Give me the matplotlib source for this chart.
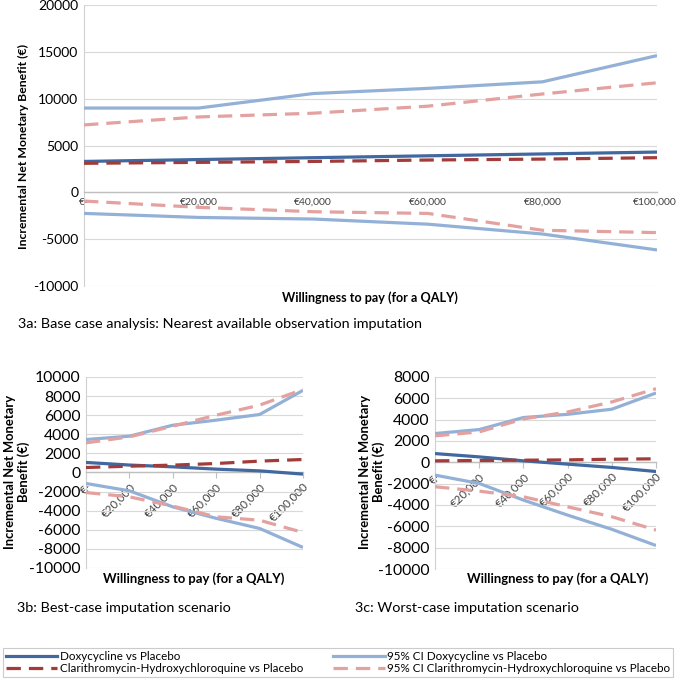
import matplotlib
matplotlib.use("Agg")
import matplotlib.pyplot as plt
from matplotlib.lines import Line2D
from matplotlib.ticker import FuncFormatter
from matplotlib.transforms import ScaledTranslation

plt.rcParams['font.family'] = ['Lato', 'DejaVu Sans']

wtp = [0, 20000, 40000, 60000, 80000, 100000]
xtick_labels = ["€-", "€20,000", "€40,000", "€60,000", "€80,000", "€100,000"]

# 3a base case
a_doxy = [3300, 3500, 3700, 3900, 4100, 4300]
a_clar = [3100, 3200, 3300, 3450, 3550, 3700]
a_doxy_hi = [9000, 9000, 10550, 11100, 11800, 14600]
a_doxy_lo = [-2250, -2680, -2850, -3400, -4450, -6150]
a_clar_hi = [7200, 8050, 8450, 9200, 10500, 11700]
a_clar_lo = [-930, -1600, -2070, -2250, -4050, -4300]

# 3b best case
b_doxy = [1050, 780, 590, 350, 170, -170]
b_clar = [520, 660, 770, 940, 1190, 1360]
b_doxy_hi = [3450, 3800, 4950, 5480, 6070, 8600]
b_doxy_lo = [-1150, -1920, -3600, -4800, -5860, -7850]
b_clar_hi = [3100, 3730, 4850, 6000, 7050, 8700]
b_clar_lo = [-2100, -2550, -3520, -4640, -5000, -6280]

# 3c worst case
c_doxy = [820, 510, 140, -170, -480, -860]
c_clar = [140, 170, 200, 230, 290, 330]
c_doxy_hi = [2700, 3070, 4200, 4500, 4980, 6500]
c_doxy_lo = [-1200, -1980, -3540, -4950, -6280, -7800]
c_clar_hi = [2480, 2850, 4070, 4720, 5660, 6900]
c_clar_lo = [-2290, -2700, -3230, -4170, -5100, -6350]

series_names = ["Doxycycline vs Placebo", "95% CI Doxycycline vs Placebo",
                "Clarithromycin-Hydroxychloroquine vs Placebo",
                "95% CI Clarithromycin-Hydroxychloroquine vs Placebo"]

C_DOXY = "#41689F"
C_DOXY_CI = "#93B1D6"
C_CLAR = "#A13C3A"
C_CLAR_CI = "#E3A19F"
DASH = (0, (4.5, 2.5))
LW = 2.3

fig = plt.figure(figsize=(6.76, 6.79), dpi=100)

def draw(ax, d, c, dh, dl, chh, cl, ylim, ystep, rotate, tick_fs, ytick_fs):
    ax.plot(wtp, dh, color=C_DOXY_CI, lw=LW, solid_capstyle='butt', zorder=3)
    ax.plot(wtp, dl, color=C_DOXY_CI, lw=LW, solid_capstyle='butt', zorder=3)
    ax.plot(wtp, chh, color=C_CLAR_CI, lw=LW, ls=DASH, zorder=3)
    ax.plot(wtp, cl, color=C_CLAR_CI, lw=LW, ls=DASH, zorder=3)
    ax.plot(wtp, d, color=C_DOXY, lw=LW, solid_capstyle='butt', zorder=4)
    ax.plot(wtp, c, color=C_CLAR, lw=LW, ls=DASH, zorder=4)
    ax.set_xlim(0, 100000)
    ax.set_ylim(*ylim)
    ax.set_yticks(list(range(ylim[0], ylim[1] + 1, ystep)))
    ax.yaxis.set_major_formatter(FuncFormatter(lambda v, p: f"{int(v)}"))
    ax.tick_params(axis='y', length=0, labelsize=ytick_fs, pad=4)
    ax.grid(axis='y', color='#d9d9d9', lw=0.8, zorder=0)
    ax.set_axisbelow(True)
    for s in ['top', 'right']:
        ax.spines[s].set_visible(False)
    ax.spines['left'].set_color('#d0d0d0')
    ax.spines['bottom'].set_position(('data', 0))
    ax.spines['bottom'].set_color('#bfbfbf')
    ax.spines['bottom'].set_linewidth(1.0)
    ax.set_xticks(wtp)
    if rotate:
        ax.set_xticklabels(xtick_labels, rotation=45, ha='right', va='top',
                           rotation_mode='anchor', fontsize=tick_fs, color='#404040')
        ax.tick_params(axis='x', length=4, color='#bfbfbf', pad=2)
    else:
        ax.set_xticklabels(xtick_labels, fontsize=tick_fs, color='#404040')
        ax.tick_params(axis='x', length=0, pad=4)
    ax.set_facecolor('white')

ax_a = fig.add_axes([0.1243, 0.5788, 0.8476, 0.4138])
draw(ax_a, a_doxy, a_clar, a_doxy_hi, a_doxy_lo, a_clar_hi, a_clar_lo,
     (-10000, 20000), 5000, False, 7.5, 10)
last = ax_a.get_xticklabels()[-1]
last.set_transform(last.get_transform() + ScaledTranslation(-2 / 100, 0, fig.dpi_scale_trans))

ax_b = fig.add_axes([0.1272, 0.1635, 0.321, 0.2813])
draw(ax_b, b_doxy, b_clar, b_doxy_hi, b_doxy_lo, b_clar_hi, b_clar_lo,
     (-10000, 10000), 2000, True, 8.3, 11.3)
ax_c = fig.add_axes([0.6435, 0.162, 0.327, 0.2828])
draw(ax_c, c_doxy, c_clar, c_doxy_hi, c_doxy_lo, c_clar_hi, c_clar_lo,
     (-10000, 8000), 2000, True, 8.3, 11.3)

# axis labels
fig.text(23 / 676, 1 - 146 / 679, "Incremental Net Monetary Benefit (€)", rotation=90,
         ha='center', va='center', fontsize=8.8, fontweight='bold')
fig.text(370 / 676, 1 - 298 / 679, "Willingness to pay (for a QALY)",
         ha='center', va='center', fontsize=9.1, fontweight='bold')
fig.text(17 / 676, 1 - 472 / 679, "Incremental Net Monetary\nBenefit (€)", rotation=90,
         ha='center', va='center', fontsize=9.4, fontweight='bold', linespacing=1.15)
fig.text(194 / 676, 1 - 579 / 679, "Willingness to pay (for a QALY)",
         ha='center', va='center', fontsize=9.4, fontweight='bold')
fig.text(372 / 676, 1 - 472 / 679, "Incremental Net Monetary\nBenefit (€)", rotation=90,
         ha='center', va='center', fontsize=9.4, fontweight='bold', linespacing=1.15)
fig.text(558 / 676, 1 - 579 / 679, "Willingness to pay (for a QALY)",
         ha='center', va='center', fontsize=9.4, fontweight='bold')

# captions
fig.text(18 / 676, 1 - 324 / 679, "3a: Base case analysis: Nearest available observation imputation",
         ha='left', va='center', fontsize=10.4)
fig.text(17 / 676, 1 - 608 / 679, "3b: Best-case imputation scenario",
         ha='left', va='center', fontsize=10.4)
fig.text(355 / 676, 1 - 608 / 679, "3c: Worst-case imputation scenario",
         ha='left', va='center', fontsize=10.4)

handles = [
    Line2D([], [], color=C_DOXY, lw=LW),
    Line2D([], [], color=C_CLAR, lw=LW, ls=DASH),
    Line2D([], [], color=C_DOXY_CI, lw=LW),
    Line2D([], [], color=C_CLAR_CI, lw=LW, ls=DASH),
]
labels = [series_names[0], series_names[2], series_names[1], series_names[3]]
leg = fig.legend(handles, labels, ncol=2, loc='lower left',
                 bbox_to_anchor=(3 / 676, 2 / 679, 670 / 676, 28 / 679),
                 mode='expand', fontsize=8.4, frameon=True, fancybox=False,
                 handlelength=4.4, handletextpad=0.2, borderaxespad=0,
                 borderpad=0.25, labelspacing=0.1)
leg.get_frame().set_edgecolor('#bfbfbf')
leg.get_frame().set_linewidth(0.8)

fig.savefig("out.png", dpi=100, facecolor='white')
